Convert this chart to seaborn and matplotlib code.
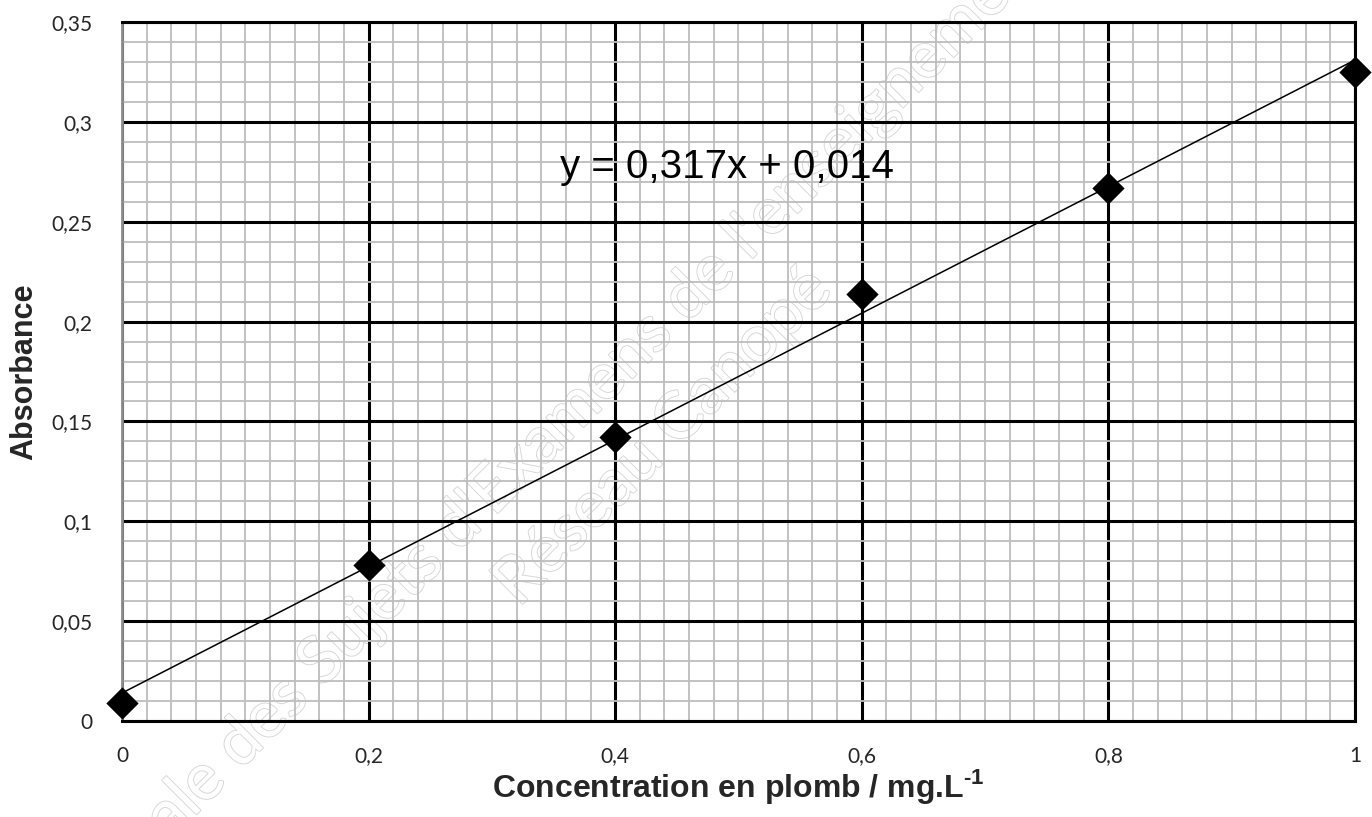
import numpy as np
import pandas as pd
import seaborn as sns
import matplotlib
matplotlib.use("Agg")
from matplotlib import pyplot as plt
from matplotlib.ticker import MultipleLocator, FuncFormatter
import matplotlib.patheffects as pe

# Data
concentration = [0.0, 0.2, 0.4, 0.6, 0.8, 1.0]
absorbance = [0.009, 0.078, 0.142, 0.214, 0.267, 0.325]
equation = "y = 0,317x + 0,014"
x_label = "Concentration en plomb / mg.L$^{\\mathbf{\u2010}\\mathbf{1}}$"
y_label = "Absorbance"
watermark_1 = "Base Nationale des Sujets d'Examens de l'enseignement professionnel"
watermark_2 = "Réseau Canopé"

df = pd.DataFrame({"conc": concentration, "abs": absorbance})

sns.set_style("white")
plt.rcParams["font.family"] = ["Liberation Sans", "DejaVu Sans"]
plt.rcParams["mathtext.fontset"] = "custom"
plt.rcParams["mathtext.bf"] = "Liberation Sans:bold"
plt.rcParams["mathtext.rm"] = "Liberation Sans"

W, H = 1372, 817
fig = plt.figure(figsize=(W / 100, H / 100), dpi=100)
ax = fig.add_axes([0.0889, 0.1175, 0.8987, 0.8555])
ax.patch.set_visible(False)

# grid
ax.set_axisbelow(True)
ax.xaxis.set_major_locator(MultipleLocator(0.2))
ax.xaxis.set_minor_locator(MultipleLocator(0.02))
ax.yaxis.set_major_locator(MultipleLocator(0.05))
ax.yaxis.set_minor_locator(MultipleLocator(0.01))
ax.grid(which="minor", color="#bdbdbd", linewidth=1.3)
ax.grid(which="major", color="black", linewidth=2.2)

sns.regplot(data=df, x="conc", y="abs", ax=ax, ci=None, truncate=True,
            marker="D",
            scatter_kws=dict(color="black", s=270, zorder=5, linewidths=0,
                             alpha=1, clip_on=False),
            line_kws=dict(color="black", linewidth=1.1, zorder=4))

ax.set_xlim(0, 1)
ax.set_ylim(0, 0.35)

fmt = FuncFormatter(lambda v, p: ("%g" % round(v, 3)).replace(".", ","))
ax.xaxis.set_major_formatter(fmt)
ax.yaxis.set_major_formatter(fmt)

for s in ["top", "right", "bottom"]:
    ax.spines[s].set_color("black")
    ax.spines[s].set_linewidth(2.2)
ax.spines["left"].set_color("#8c8c8c")
ax.spines["left"].set_linewidth(2)
fig.canvas.draw()
ax.xaxis.get_major_ticks()[0].gridline.set_visible(False)

ax.tick_params(axis="x", which="major", direction="out", length=6, width=2,
               color="black", pad=12, labelsize=15)
ax.tick_params(axis="x", which="minor", direction="out", length=4, width=2,
               color="black")
ax.tick_params(axis="y", which="major", direction="out", length=7, width=1.5,
               color="#8c8c8c", pad=14, labelsize=15)
ax.tick_params(axis="y", which="minor", direction="out", length=5, width=1.5,
               color="#8c8c8c")
for lab in ax.get_xticklabels() + ax.get_yticklabels():
    lab.set_family(["Lato", "DejaVu Sans"])

ax.set_xlabel(x_label, fontsize=23, fontweight="bold")
ax.xaxis.set_label_coords(0.5, -0.093)
ax.xaxis.label.set_verticalalignment("center")
ax.set_ylabel(y_label, fontsize=22, fontweight="bold")
ax.yaxis.set_label_coords(-0.0795, 0.5)
ax.yaxis.label.set_verticalalignment("center")

ax.text(0.355, 0.272, equation, fontsize=29, color="black", va="baseline", zorder=6)

# faint hollow watermark behind the grid
renderer = fig.canvas.get_renderer()
wm_family = ["Lato", "DejaVu Sans"]


def text_width(s, size):
    t = fig.text(0, 0, s, fontsize=size, family=wm_family)
    w = t.get_window_extent(renderer).width
    t.remove()
    return w


visible = "le des Sujets d'Examens de l'enseigneme"
wm_size = 10 * 1160 / text_width(visible, 10)
pre = text_width(watermark_1[:watermark_1.index(visible)], wm_size)
ang = np.deg2rad(45)
sx, sy = 180 - pre * np.cos(ang), 805 + pre * np.sin(ang)
wm_style = dict(fontsize=wm_size, family=wm_family, color="white", zorder=-1,
                rotation=45, rotation_mode="anchor", va="center",
                path_effects=[pe.Stroke(linewidth=1.3, foreground="#d6d6d6"), pe.Normal()])
fig.text(sx / W, 1 - sy / H, watermark_1, ha="left", **wm_style)
fig.text(663 / W, 1 - 437 / H, watermark_2, ha="center", **wm_style)

fig.savefig("out.png", dpi=100, facecolor="white")
